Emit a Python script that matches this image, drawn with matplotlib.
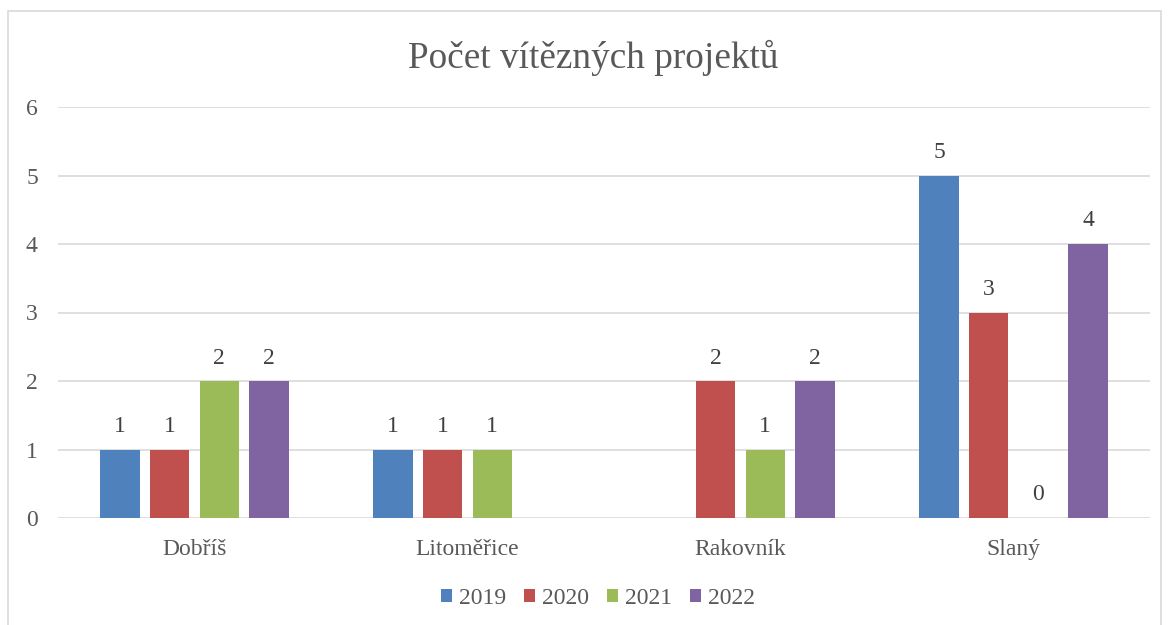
import numpy as np
import matplotlib
matplotlib.use("Agg")
import matplotlib.pyplot as plt
from matplotlib.patches import Rectangle

categories = ["Dobříš", "Litoměřice", "Rakovník", "Slaný"]
years = ["2019", "2020", "2021", "2022"]
v2019 = [1, 1, np.nan, 5]
v2020 = [1, 1, 2, 3]
v2021 = [2, 1, 1, 0]
v2022 = [2, np.nan, 2, 4]
series = [v2019, v2020, v2021, v2022]
colors = ["#4F81BD", "#C0504D", "#9BBB59", "#8064A2"]
title = "Počet vítězných projektů"

plt.rcParams['font.family'] = ['Liberation Serif', 'DejaVu Serif']

W, H = 1169, 625
fig = plt.figure(figsize=(W / 100, H / 100), dpi=100)
fig.patch.set_facecolor("white")

# outer chart border
fig.add_artist(Rectangle((8 / W, -0.02), (1161 - 8) / W, 1 - 11 / H + 0.02,
                         transform=fig.transFigure, fill=False,
                         edgecolor="#D9D9D9", linewidth=1.2))

left, right, top, bottom = 58, 1150, 107, 518
ax = fig.add_axes([left / W, 1 - bottom / H, (right - left) / W, (bottom - top) / H])

x = np.arange(len(categories))
bw = 0.144
pitch = 0.182
for i, (vals, c, yr) in enumerate(zip(series, colors, years)):
    pos = x + (i - 1.5) * pitch
    arr = np.array(vals, dtype=float)
    ax.bar(pos, np.nan_to_num(arr, nan=0.0), width=bw, color=c,
           label=yr, zorder=3, edgecolor="none")
    for p, v in zip(pos, arr):
        if not np.isnan(v):
            ax.annotate(f"{int(v)}", (p, v), xytext=(0, 9), textcoords="offset points",
                        ha="center", va="bottom", fontsize=17, color="#404040")

ax.set_xlim(-0.5, len(categories) - 0.5)
ax.set_ylim(0, 6)
ax.set_yticks(range(0, 7))
ax.yaxis.grid(True, color="#D9D9D9", linewidth=1.2, zorder=0)
ax.set_axisbelow(True)
for s in ax.spines.values():
    s.set_visible(False)
ax.tick_params(axis="both", length=0, labelsize=17, colors="#595959")
ax.tick_params(axis="y", pad=14.5)
ax.tick_params(axis="x", pad=15)
ax.set_xticks(x)
ax.set_xticklabels(categories)

fig.text(0.5 * (408 + 779) / W, 1 - 58 / H, title, ha="center", va="center",
         fontsize=26.8, color="#595959")

leg = fig.legend(loc="center", bbox_to_anchor=(598 / W, 1 - 598 / H), ncol=4,
                 frameon=False, fontsize=17, handlelength=0.47, handleheight=0.47,
                 handletextpad=0.3, columnspacing=0.76, labelcolor="#595959")

fig.savefig("out.png", dpi=100)
